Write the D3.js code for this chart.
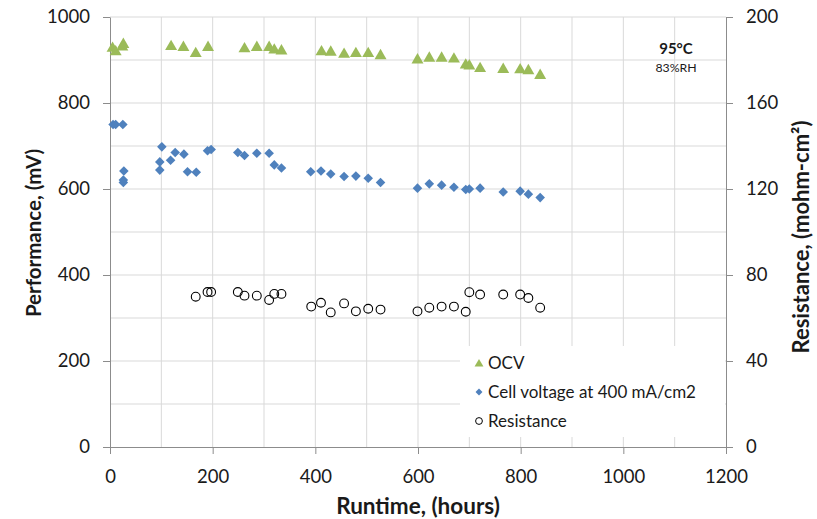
<!DOCTYPE html>
<html>
<head>
<meta charset="utf-8">
<script src="https://cdn.jsdelivr.net/npm/d3@7"></script>
<style>
body { margin: 0; background: #fff; }
text { font-family: Lato, "Open Sans", sans-serif; fill: #1a1a1a; }
</style>
</head>
<body>
<svg id="chart"></svg>
<script>
var width = 817, height = 519;
var svg = d3.select("#chart").attr("width", width).attr("height", height);

// OCV (mV)
var ocvHours = [5, 11, 24, 26, 119, 143, 167, 191, 262, 286, 310, 320, 334, 412, 430, 456, 479, 503, 527, 599, 622, 646, 670, 693, 700, 721, 766, 799, 815, 838];
var ocvMv    = [927, 919, 930, 936, 931, 929, 915, 929, 926, 929, 929, 923, 921, 919, 918, 913, 915, 915, 910, 900, 904, 904, 902, 888, 886, 880, 878, 877, 875, 864];

// cell voltage at 400 mA/cm2 (mV)
var cellHours = [6, 11, 25, 27, 26, 26, 97, 97, 101, 118, 127, 144, 151, 168, 190, 197, 249, 262, 286, 310, 320, 334, 391, 411, 430, 456, 479, 503, 527, 599, 622, 646, 670, 693, 700, 721, 766, 799, 815, 838];
var cellMv    = [750, 750, 750, 642, 621, 615, 644, 663, 698, 667, 685, 681, 640, 639, 689, 692, 685, 678, 683, 683, 656, 649, 640, 642, 635, 629, 630, 625, 615, 602, 612, 609, 604, 599, 600, 602, 593, 595, 588, 580];

// resistance (mohm-cm2)
var resHours = [167, 190, 197, 249, 262, 286, 310, 320, 334, 392, 411, 430, 456, 479, 503, 527, 599, 622, 646, 670, 693, 700, 721, 766, 799, 815, 838];
var resVal   = [69.9, 72.1, 72.1, 72.1, 70.4, 70.4, 68.4, 71.2, 71.2, 65.3, 67.1, 62.6, 66.8, 63.1, 64.3, 63.9, 63.1, 64.8, 65.3, 65.3, 62.9, 72.0, 70.9, 70.9, 70.9, 69.3, 64.8];

var xTicks = [0, 200, 400, 600, 800, 1000, 1200];
var yTicks = [0, 200, 400, 600, 800, 1000];
var y2Ticks = [0, 40, 80, 120, 160, 200];
var legendLabels = ["OCV", "Cell voltage at 400 mA/cm2", "Resistance"];

var plotL = 110, plotR = 726, plotT = 17, plotB = 447;
var x = d3.scaleLinear().domain([0, 1200]).range([plotL, plotR]);
var y = d3.scaleLinear().domain([0, 1000]).range([plotB, plotT]);
var y2 = d3.scaleLinear().domain([0, 200]).range([plotB, plotT]);

var green = "#9BBB59", blue = "#4F81BD";
var gridColor = "#D9D9D9", axisColor = "#8C8C8C";

// grid
var grid = svg.append("g");
grid.selectAll("line.v").data(d3.range(100, 1200, 100)).enter().append("line")
  .attr("x1", function(d) { return x(d); }).attr("x2", function(d) { return x(d); })
  .attr("y1", plotT).attr("y2", plotB)
  .attr("stroke", gridColor).attr("stroke-width", 1);
grid.selectAll("line.h").data(d3.range(100, 1100, 100)).enter().append("line")
  .attr("x1", plotL).attr("x2", plotR)
  .attr("y1", function(d) { return y(d); }).attr("y2", function(d) { return y(d); })
  .attr("stroke", gridColor).attr("stroke-width", 1);

// axes
function styleAxis(g) {
  g.select(".domain").attr("stroke", axisColor);
  g.selectAll(".tick line").attr("stroke", axisColor);
  g.selectAll(".tick text").style("font-size", "18.5px").attr("fill", "#1a1a1a");
}
svg.append("g").attr("transform", "translate(0," + plotB + ")")
  .call(d3.axisBottom(x).tickValues(xTicks).tickFormat(d3.format("d")).tickSize(7).tickSizeOuter(0).tickPadding(16))
  .call(styleAxis);
svg.append("g").attr("transform", "translate(" + plotL + ",0)")
  .call(d3.axisLeft(y).tickValues(yTicks).tickFormat(d3.format("d")).tickSize(7).tickSizeOuter(0).tickPadding(13))
  .call(styleAxis);
svg.append("g").attr("transform", "translate(" + plotR + ",0)")
  .call(d3.axisRight(y2).tickValues(y2Ticks).tickFormat(d3.format("d")).tickSize(7).tickSizeOuter(0).tickPadding(13))
  .call(styleAxis);

// axis titles
svg.append("text").attr("x", 418).attr("y", 514)
  .attr("text-anchor", "middle").style("font-size", "22.5px").style("font-weight", "bold")
  .text("Runtime, (hours)");
svg.append("text").attr("transform", "translate(41,233) rotate(-90)")
  .attr("text-anchor", "middle").style("font-size", "20.5px").style("font-weight", "bold")
  .text("Performance, (mV)");
svg.append("text").attr("transform", "translate(809,237) rotate(-90)")
  .attr("text-anchor", "middle").style("font-size", "22px").style("font-weight", "bold")
  .text("Resistance, (mohm-cm²)");

// annotation
svg.append("text").attr("x", 676).attr("y", 54).attr("text-anchor", "middle")
  .style("font-size", "15px").style("font-weight", "bold").text("95°C");
svg.append("text").attr("x", 676).attr("y", 72).attr("text-anchor", "middle")
  .style("font-size", "12.3px").text("83%RH");

var tri = d3.symbol().type(d3.symbolTriangle).size(62);
var dia = d3.symbol().type(d3.symbolSquare).size(46);

var ocv = ocvHours.map(function(h, i) { return {h: h, v: ocvMv[i]}; });
var cell = cellHours.map(function(h, i) { return {h: h, v: cellMv[i]}; });
var res = resHours.map(function(h, i) { return {h: h, v: resVal[i]}; });

svg.append("g").selectAll("path").data(ocv).enter().append("path")
  .attr("d", tri)
  .attr("transform", function(d) { return "translate(" + x(d.h) + "," + y(d.v) + ")"; })
  .attr("fill", green);

svg.append("g").selectAll("path").data(cell).enter().append("path")
  .attr("d", dia)
  .attr("transform", function(d) { return "translate(" + x(d.h) + "," + y(d.v) + ") rotate(45)"; })
  .attr("fill", blue);

svg.append("g").selectAll("circle").data(res).enter().append("circle")
  .attr("cx", function(d) { return x(d.h); })
  .attr("cy", function(d) { return y2(d.v); })
  .attr("r", 4.4)
  .attr("fill", "none").attr("stroke", "#000").attr("stroke-width", 1.1);

// legend
var legend = svg.append("g");
legend.append("rect").attr("x", 460).attr("y", 346).attr("width", 265).attr("height", 91).attr("fill", "#fff");
legendLabels.forEach(function(label, i) {
  var ly = 363 + i * 29;
  if (i == 0) {
    legend.append("path").attr("d", d3.symbol().type(d3.symbolTriangle).size(34))
      .attr("transform", "translate(479," + (ly + 1) + ")").attr("fill", green);
  } else if (i == 1) {
    legend.append("path").attr("d", d3.symbol().type(d3.symbolSquare).size(24))
      .attr("transform", "translate(479," + ly + ") rotate(45)").attr("fill", blue);
  } else {
    legend.append("circle").attr("cx", 479).attr("cy", ly).attr("r", 3.4)
      .attr("fill", "none").attr("stroke", "#000").attr("stroke-width", 1);
  }
  legend.append("text").attr("x", 488).attr("y", ly + 5.5).style("font-size", "17px").text(label);
});
</script>
</body>
</html>
